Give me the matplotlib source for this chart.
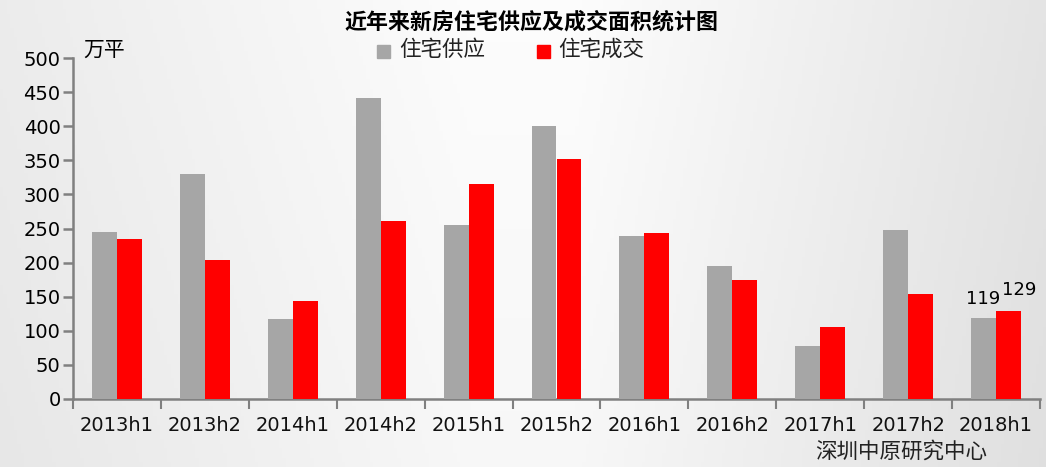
import numpy as np
import matplotlib
matplotlib.use("Agg")
import matplotlib.pyplot as plt
from matplotlib.patches import Rectangle

plt.rcParams['font.family'] = ['DejaVu Sans', 'Noto Sans CJK SC']

categories = ["2013h1", "2013h2", "2014h1", "2014h2", "2015h1", "2015h2",
              "2016h1", "2016h2", "2017h1", "2017h2", "2018h1"]
supply = [245, 330, 117, 441, 255, 401, 239, 195, 78, 248, 119]
sales = [235, 204, 143, 261, 315, 352, 243, 175, 106, 154, 129]
series_names = ["住宅供应", "住宅成交"]
yticks = [0, 50, 100, 150, 200, 250, 300, 350, 400, 450, 500]

W, H = 1046, 467
fig = plt.figure(figsize=(W / 100, H / 100), dpi=100)

# background gradient
bg = fig.add_axes([0, 0, 1, 1], zorder=-10)
xs = np.linspace(0, 1, 300)
prof = np.interp(xs, [0, 0.45, 0.55, 1.0], [0.925, 0.99, 0.99, 0.895])
ys = np.linspace(0, 1, 100)[:, None]
img = prof[None, :] * (1 - 0.02 * (1 - ys))
bg.imshow(np.dstack([img, img, img]), aspect='auto', extent=[0, 1, 0, 1], origin='lower')
bg.axis('off')

ax = fig.add_axes([73 / W, 1 - 399 / H, (1040 - 73) / W, (399 - 58) / H])
ax.patch.set_alpha(0)

x = np.arange(len(categories))
bw = 0.284
gray = '#a6a6a6'
red = '#ff0000'
ax.bar(x - bw / 2, supply, width=bw, color=gray, zorder=3)
ax.bar(x + bw / 2, sales, width=bw, color=red, zorder=3)

ax.set_xlim(-0.5, len(categories) - 0.5)
ax.set_ylim(0, 500)
ax.set_yticks(yticks)
ax.set_yticklabels([str(v) for v in yticks], fontsize=14)
ax.set_xticks(x)
ax.set_xticklabels(categories, fontsize=14, color='#111111')
ax.set_xticks(np.arange(len(categories) + 1) - 0.5, minor=True)
ax.tick_params(axis='x', which='major', length=0, pad=12)
ax.tick_params(axis='x', which='minor', length=7, width=1.5, color='#808080', direction='out')
ax.tick_params(axis='y', length=7, width=1.8, color='#808080', direction='out', pad=2)

for s in ['top', 'right']:
    ax.spines[s].set_visible(False)
for s in ['left', 'bottom']:
    ax.spines[s].set_color('#808080')
    ax.spines[s].set_linewidth(1.8)

# data labels for last period
ax.annotate(str(supply[-1]), (x[-1] - bw / 2, supply[-1]), xytext=(0, 7),
            textcoords='offset points', ha='center', va='bottom', fontsize=13)
ax.annotate(str(sales[-1]), (x[-1] + bw / 2, sales[-1]), xytext=(8, 9),
            textcoords='offset points', ha='center', va='bottom', fontsize=13)

fig.text(531 / W, 1 - 22 / H, "近年来新房住宅供应及成交面积统计图", ha='center', va='center',
         fontsize=15.8, fontweight='bold', family=['Noto Sans CJK SC'])
fig.text(83 / W, 1 - 50 / H, "万平", ha='left', va='center', fontsize=15, family=['Noto Sans CJK SC'])

# legend
fig.patches.append(Rectangle((377 / W, 1 - 58 / H), 13 / W, 13 / H, transform=fig.transFigure,
                             color=gray, figure=fig))
fig.text(399 / W, 1 - 50 / H, series_names[0], ha='left', va='center', fontsize=15.5,
         family=['Noto Sans CJK SC'], color='#222222')
fig.patches.append(Rectangle((537 / W, 1 - 58 / H), 13 / W, 13 / H, transform=fig.transFigure,
                             color=red, figure=fig))
fig.text(558 / W, 1 - 50 / H, series_names[1], ha='left', va='center', fontsize=15.5,
         family=['Noto Sans CJK SC'], color='#222222')

fig.text(815 / W, 1 - 452 / H, "深圳中原研究中心", ha='left', va='center', fontsize=15.5,
         family=['Noto Sans CJK SC'], color='#222222')

fig.savefig("out.png", dpi=100)
